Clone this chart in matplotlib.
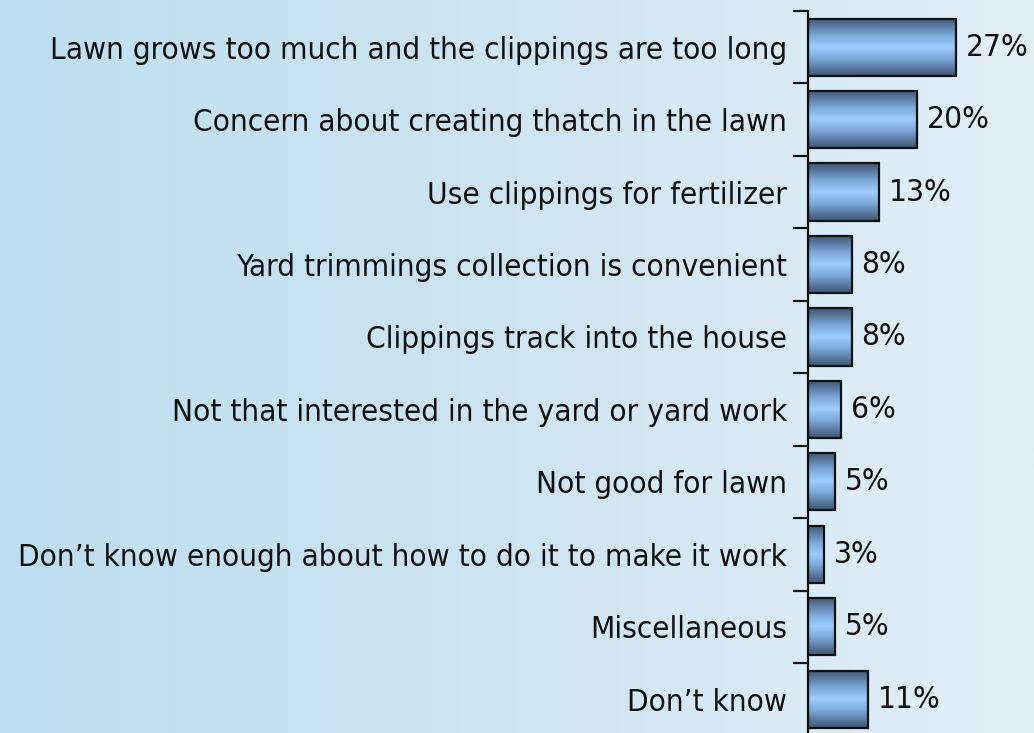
import numpy as np
import matplotlib
matplotlib.use("Agg")
import matplotlib.pyplot as plt
from matplotlib.colors import LinearSegmentedColormap

categories = [
    "Lawn grows too much and the clippings are too long",
    "Concern about creating thatch in the lawn",
    "Use clippings for fertilizer",
    "Yard trimmings collection is convenient",
    "Clippings track into the house",
    "Not that interested in the yard or yard work",
    "Not good for lawn",
    "Don\u2019t know enough about how to do it to make it work",
    "Miscellaneous",
    "Don\u2019t know",
]
values = [27, 20, 13, 8, 8, 6, 5, 3, 5, 11]

W, H, DPI = 1034, 733, 100
fig = plt.figure(figsize=(W / DPI, H / DPI), dpi=DPI)

# soft horizontal background wash
bg = fig.add_axes([0, 0, 1, 1], zorder=0)
bg_cmap = LinearSegmentedColormap.from_list("bg", ["#bddff1", "#cfe5f2", "#e3eff7"])
bg.imshow(np.linspace(0, 1, 512)[None, :], aspect="auto", cmap=bg_cmap,
          extent=(0, 1, 0, 1))
bg.set_axis_off()

# plotting area: y axis at x=808 px, one category every ~72.4 px
px_per_unit = 5.47
x_max = 40
slot = 72.44
top_px = 11
left = 808 / W
width = px_per_unit * x_max / W
height = slot * len(categories) / H
bottom = (H - top_px) / H - height
ax = fig.add_axes([left, bottom, width, height], zorder=1)
ax.set_facecolor("none")

n = len(categories)

bar_cmap = LinearSegmentedColormap.from_list(
    "bar", [(0.0, "#3f5472"), (0.3, "#7aa8d8"), (0.5, "#9ccdfe"),
            (0.7, "#7aa8d8"), (1.0, "#3f5472")])
grad = np.linspace(0, 1, 256)[:, None]
bar_h = 0.79

font = dict(family="DejaVu Sans", fontstretch="condensed", size=22.6)

for i, v in enumerate(values):
    y0, y1 = i - bar_h / 2, i + bar_h / 2
    ax.imshow(grad, aspect="auto", cmap=bar_cmap, extent=(0, v, y1, y0),
              zorder=2, interpolation="bilinear")
    ax.add_patch(plt.Rectangle((0, y0), v, bar_h, fill=False,
                               edgecolor="#111111", linewidth=1.6, zorder=3))
    ax.annotate(f"{v}%", xy=(v, i), xytext=(7, 0), textcoords="offset points",
                ha="left", va="center", color="#111111", **font)

ax.set_xlim(0, x_max)
ax.set_ylim(n - 0.5, -0.5)

for s in ("top", "right", "bottom"):
    ax.spines[s].set_visible(False)
ax.spines["left"].set_color("#111111")
ax.spines["left"].set_linewidth(1.6)
ax.set_xticks([])

ax.set_yticks(range(n))
ax.set_yticklabels(categories, **font, color="#111111")
ax.tick_params(axis="y", which="major", length=0, pad=15)
ax.set_yticks(np.arange(-0.5, n, 1.0), minor=True)
ax.tick_params(axis="y", which="minor", length=11, width=1.6, color="#111111")

fig.savefig("out.png", dpi=DPI)
